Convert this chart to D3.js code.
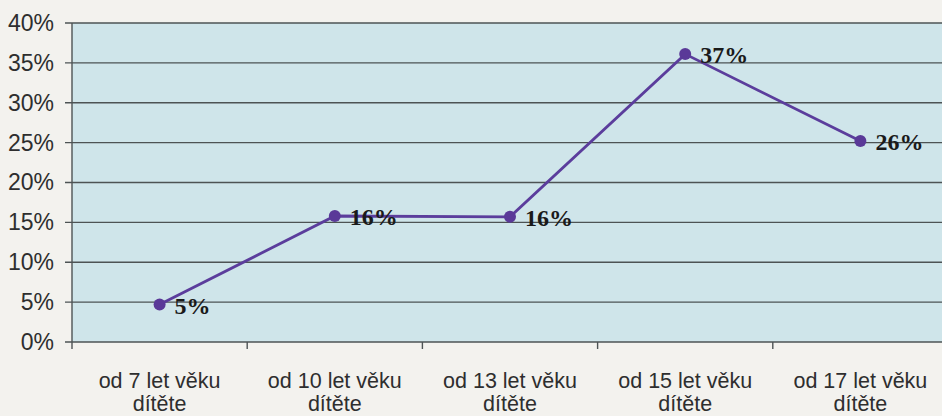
<!DOCTYPE html>
<html lang="cs">
<head>
<meta charset="UTF-8">
<title>chart</title>
<script src="https://cdn.jsdelivr.net/npm/d3@7"></script>
<style>
  html, body { margin: 0; padding: 0; background: #f3f2ee; }
  #chart { width: 942px; height: 416px; overflow: hidden; }
  .yaxis text { font-family: "Liberation Sans", Arial, sans-serif; font-size: 23px; fill: #2e2e2e; }
  .xlab { font-family: "Liberation Sans", Arial, sans-serif; font-size: 21.5px; fill: #2e2e2e; }
  .vlab { font-family: "Liberation Serif", "Times New Roman", serif; font-size: 24px; font-weight: bold; fill: #1a1a1a; }
</style>
</head>
<body>
<div id="chart"></div>
<script>
// data
var categories = ["od 7 let věku dítěte", "od 10 let věku dítěte", "od 13 let věku dítěte", "od 15 let věku dítěte", "od 17 let věku dítěte"];
var values = [4.7, 15.8, 15.7, 36.1, 25.2];   // plotted positions (%)
var labels = ["5%", "16%", "16%", "37%", "26%"];
var yTicks = [0, 5, 10, 15, 20, 25, 30, 35, 40];

// plot box
var width = 942, height = 416;
var padL = 72, padR = 948, padT = 23, padB = 342;

var svg = d3.select("#chart").append("svg")
  .attr("width", width).attr("height", height);

var x = d3.scaleBand().domain(categories).range([padL, padR]);
var y = d3.scaleLinear().domain([0, 40]).range([padB, padT]);

// plot area
svg.append("rect")
  .attr("x", padL).attr("y", padT)
  .attr("width", padR - padL).attr("height", padB - padT)
  .attr("fill", "#cfe5ea");

// grid lines
svg.selectAll("line.grid")
  .data(yTicks)
  .enter().append("line")
  .attr("class", "grid")
  .attr("x1", padL - 7).attr("x2", padR)
  .attr("y1", function(d){ return y(d); })
  .attr("y2", function(d){ return y(d); })
  .attr("stroke", "#4d5354").attr("stroke-width", 1.4);

// y axis
var yAxis = d3.axisLeft(y).tickValues(yTicks).tickSize(0).tickPadding(18)
  .tickFormat(function(d){ return d + "%"; });
var gy = svg.append("g").attr("class", "yaxis")
  .attr("transform", "translate(" + padL + ",0)")
  .call(yAxis);
gy.select(".domain").remove();

svg.append("line")
  .attr("x1", padL).attr("x2", padL).attr("y1", padT).attr("y2", padB)
  .attr("stroke", "#4d5354").attr("stroke-width", 1.4);

// x ticks at band edges
var edges = categories.map(function(c){ return x(c); }).concat([x(categories[categories.length - 1]) + x.bandwidth()]);
svg.selectAll("line.xtick")
  .data(edges)
  .enter().append("line")
  .attr("class", "xtick")
  .attr("x1", function(d){ return d; }).attr("x2", function(d){ return d; })
  .attr("y1", padB).attr("y2", padB + 7)
  .attr("stroke", "#4d5354").attr("stroke-width", 1.4);

// x labels (two lines)
var xl = svg.selectAll("text.xlab")
  .data(categories)
  .enter().append("text")
  .attr("class", "xlab")
  .attr("text-anchor", "middle")
  .attr("x", function(d){ return x(d) + x.bandwidth() / 2; })
  .attr("y", 388);
xl.append("tspan").text(function(d){ return d.replace(" dítěte", ""); });
xl.append("tspan")
  .attr("x", function(d){ return x(d) + x.bandwidth() / 2; })
  .attr("dy", 23)
  .text("dítěte");

// line
var pts = categories.map(function(c, i){ return {c: c, v: values[i], l: labels[i]}; });
var line = d3.line()
  .x(function(d){ return x(d.c) + x.bandwidth() / 2; })
  .y(function(d){ return y(d.v); });

svg.append("path")
  .attr("d", line(pts))
  .attr("fill", "none")
  .attr("stroke", "#5b3d9c")
  .attr("stroke-width", 2.8);

svg.selectAll("circle")
  .data(pts)
  .enter().append("circle")
  .attr("cx", function(d){ return x(d.c) + x.bandwidth() / 2; })
  .attr("cy", function(d){ return y(d.v); })
  .attr("r", 6)
  .attr("fill", "#5a3998");

svg.selectAll("text.vlab")
  .data(pts)
  .enter().append("text")
  .attr("class", "vlab")
  .attr("x", function(d){ return x(d.c) + x.bandwidth() / 2 + 15; })
  .attr("y", function(d){ return y(d.v) + 9; })
  .text(function(d){ return d.l; });
</script>
</body>
</html>
